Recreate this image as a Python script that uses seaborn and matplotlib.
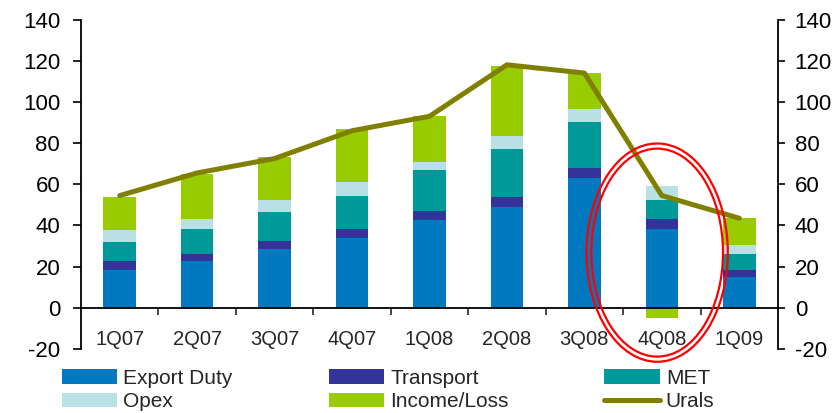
import numpy as np
import pandas as pd
import matplotlib
matplotlib.use("Agg")
import matplotlib.pyplot as plt
from matplotlib.patches import Ellipse, Patch
from matplotlib.lines import Line2D
from matplotlib.ticker import FixedLocator, NullFormatter, FixedFormatter
import seaborn as sns

quarters = ["1Q07", "2Q07", "3Q07", "4Q07", "1Q08", "2Q08", "3Q08", "4Q08", "1Q09"]
export_duty = [18.5, 22.5, 28.5, 34.0, 42.5, 49.0, 63.0, 38.5, 15.0]
transport = [4.0, 3.5, 4.0, 4.5, 4.5, 5.0, 5.0, 4.5, 3.5]
met = [9.5, 12.5, 14.0, 16.0, 20.0, 23.0, 22.0, 9.5, 7.5]
opex = [6.0, 4.5, 6.0, 6.5, 4.0, 6.5, 6.5, 6.5, 4.5]
income_loss = [16.0, 22.0, 20.5, 26.0, 22.0, 34.0, 17.5, -5.0, 13.0]
urals = [54.5, 65.5, 72.5, 86.0, 93.0, 118.0, 114.0, 54.5, 43.5]

series_names = ["Export Duty", "Transport", "MET", "Opex", "Income/Loss"]
colors = ["#0079C1", "#333399", "#009999", "#B9E0E4", "#99CC00"]
urals_color = "#808000"

sns.set_style("white")
plt.rcParams["font.family"] = ["Liberation Sans", "DejaVu Sans"]
plt.rcParams["axes.unicode_minus"] = False

fig = plt.figure(figsize=(8.39, 4.13), dpi=100)
W, H = 839, 413
ax = fig.add_axes([81 / W, 64 / H, (778 - 81) / W, (393.5 - 64) / H])

# stacked layers (drawn back to front as cumulative heights)
layers = [export_duty, transport, met, opex, income_loss]
arr = np.array(layers)
pos_cum = np.cumsum(np.clip(arr, 0, None), axis=0)
heights = [pos_cum[i].copy() for i in range(5)]
inc = np.array(income_loss)
heights[4] = np.where(inc >= 0, pos_cum[4], inc)

for i in reversed(range(5)):
    d = pd.DataFrame({"quarter": quarters, "value": heights[i]})
    sns.barplot(data=d, x="quarter", y="value", order=quarters, color=colors[i],
                width=0.42, saturation=1, ax=ax, linewidth=0, errorbar=None)

xpos = np.arange(len(quarters))
sns.lineplot(x=xpos, y=urals, color=urals_color, linewidth=3.6, ax=ax,
             solid_capstyle="round", zorder=5)

ax.set_xlim(-0.5, len(quarters) - 0.5)
ax.set_ylim(-20, 140)
ax.set_xlabel("")
ax.set_ylabel("")

ax.spines["top"].set_visible(False)
ax.spines["right"].set_visible(False)
ax.spines["bottom"].set_position(("data", 0))
for s in ["left", "bottom"]:
    ax.spines[s].set_color("black")
    ax.spines[s].set_linewidth(1.3)

ax.set_yticks(np.arange(-20, 141, 20))
ax.tick_params(axis="y", direction="out", length=6, width=1.2, pad=9,
               labelsize=16, left=True, colors="black")
ax.xaxis.set_major_locator(FixedLocator(np.arange(0.5, len(quarters) - 0.5, 1)))
ax.xaxis.set_major_formatter(NullFormatter())
ax.xaxis.set_minor_locator(FixedLocator(xpos))
ax.xaxis.set_minor_formatter(FixedFormatter(quarters))
ax.tick_params(axis="x", which="major", direction="out", length=5, width=1.2, bottom=True)
ax.tick_params(axis="x", which="minor", length=0, pad=16, labelsize=14.5, bottom=True)

ax2 = ax.twinx()
ax2.set_ylim(-20, 140)
ax2.set_yticks(np.arange(-20, 141, 20))
for s in ["top", "left", "bottom"]:
    ax2.spines[s].set_visible(False)
ax2.spines["right"].set_color("black")
ax2.spines["right"].set_linewidth(1.3)
ax2.tick_params(axis="y", direction="out", length=5, width=1.2, pad=7,
                labelsize=16, right=True, colors="black")

# red double ellipse around 4Q08
for w, h in [(1.824, 106.0), (1.70, 101.0)]:
    e = Ellipse((6.94, 26.8), width=w, height=h, fill=False, edgecolor="#FF0000",
                linewidth=1.6, clip_on=False, zorder=6)
    ax.add_patch(e)

handles = [Patch(facecolor=c, edgecolor="none") for c in colors]
handles.append(Line2D([0], [0], color=urals_color, linewidth=3.6, solid_capstyle="round"))
labels = series_names + ["Urals"]
order = [0, 3, 1, 4, 2, 5]
fig.legend([handles[i] for i in order], [labels[i] for i in order], ncol=3,
           loc="upper left", bbox_to_anchor=(62 / W, 1 - 369 / H), frameon=False,
           fontsize=15, handlelength=2.65, handleheight=0.7, handletextpad=0.3,
           columnspacing=4.6, labelspacing=0.2, borderaxespad=0, borderpad=0)

fig.savefig("out.png", dpi=100)
